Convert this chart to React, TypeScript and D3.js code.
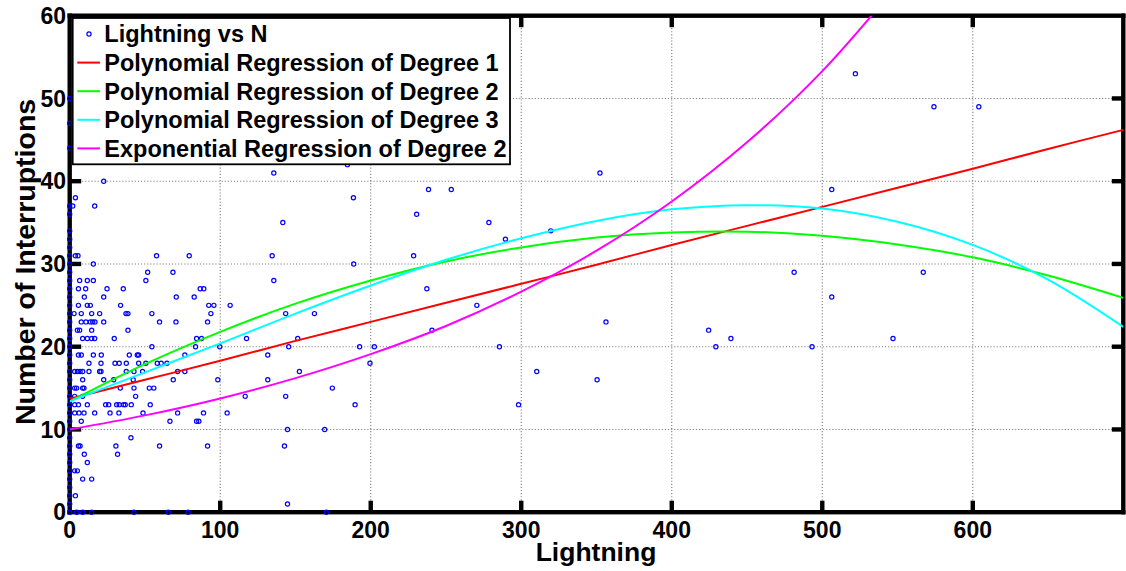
import React from 'react';
import * as d3 from 'd3';

const W = 1126;
const H = 571;

const xTicks = [0, 100, 200, 300, 400, 500, 600];
const yTicks = [0, 10, 20, 30, 40, 50, 60];
const gridX = [100, 200, 300, 400, 500, 600];
const gridY = [10, 20, 30, 40, 50];

// Observations: number of interruptions (y level) and the lightning values seen at that level
const levels = [0, 1, 2, 3, 4, 5, 6, 7, 8, 9, 10, 11, 12, 13, 14, 15, 16, 17, 18, 19, 20, 21, 22, 23, 24, 25, 26, 27, 28, 29, 30, 31, 32, 33, 34, 35, 36, 37, 38, 39, 40, 41, 42, 44, 47, 49, 50, 53];
const lightningByLevel: number[][] = [
  [0, 4.6, 8.6, 14.6, 42.7, 65.5, 78.7, 170.5],
  [0, 144.7],
  [0, 3.8],
  [0],
  [0, 8.6, 14.6],
  [0, 3.3, 5.1],
  [0, 11.7],
  [0, 9.7, 31.8],
  [0, 5.8, 6.9, 30.7, 59.7, 91.6, 142.7],
  [0, 40.7],
  [0, 144.7, 169.4],
  [0, 7.7, 66.6, 84.3, 85.8],
  [0, 3.3, 6.2, 9.5, 16.6, 26.8, 32.7, 48.7, 71.7, 88.9, 104.6],
  [0, 3.3, 5.8, 11.7, 23.9, 25.9, 31.2, 32.9, 35.8, 36.9, 40.9, 53.5, 189.6, 298.2],
  [0, 3.3, 8.6, 43.8, 116.6, 143.5],
  [0, 3.3, 4.6, 8.6, 9.5, 33.6, 42.7, 52.9, 55.9, 174.5],
  [0, 8.6, 22.6, 29.2, 42.2, 68.8, 98.4, 131.6, 350.4],
  [0, 3.3, 5.1, 6.9, 8.6, 12.8, 19.9, 20.8, 37.6, 42.7, 48.4, 71.7, 76.5, 152.6, 310.3],
  [0, 12.8, 20.8, 30.1, 32.9, 37.6, 45.8, 50.6, 58.2, 60.8, 64.6, 199.5],
  [0, 5.8, 7.7, 15.7, 21.0, 39.6, 44.9, 45.8, 76.5, 131.6],
  [0, 54.6, 83.6, 99.7, 145.5, 192.6, 202.4, 285.5, 429.3, 493.2],
  [0, 8.6, 11.7, 14.6, 16.6, 29.6, 84.3, 87.6, 117.5, 151.5, 439.3, 547],
  [0, 5.1, 6.6, 14.6, 38.7, 240.7, 424.5],
  [0, 7.7, 10.8, 13.7, 15.3, 16.8, 22.6, 59.7, 70.6, 91.6, 356.3],
  [0, 2.9, 7.7, 14.6, 19.9, 37.4, 38.7, 54.6, 93.8, 143.5, 162.6],
  [0, 5.8, 11.7, 13.7, 33.8, 92.4, 95.8, 106.6, 270.5],
  [0, 9.7, 22.6, 70.8, 82.7, 506.3],
  [0, 5.8, 10.6, 24.8, 35.6, 86.7, 89.1, 237.3],
  [0, 6.6, 11.7, 15.7, 50.6, 135.6],
  [0, 51.8, 68.6, 481.3, 567.1],
  [0, 15.7, 188.7],
  [0, 3.8, 5.5, 57.7, 79.4, 134.5, 228.5],
  [0],
  [0, 289.5],
  [0, 319.6],
  [141.6, 278.5],
  [0, 230.5],
  [0, 2.0, 16.6],
  [3.8, 188.5],
  [238.4, 253.5, 506.3],
  [22.6],
  [135.6, 352.3],
  [184.5],
  [0],
  [0],
  [574.2, 604],
  [0],
  [522],
];

// Fitted curves, read at lightning = 0, 50, ..., 700
const curveX = [0, 50, 100, 150, 200, 250, 300, 350, 400, 450, 500, 550, 600, 650, 700];
const poly1 = [13.7, 16.0, 18.3, 20.7, 23.0, 25.3, 27.6, 29.9, 32.3, 34.6, 36.9, 39.2, 41.5, 43.9, 46.2];
const poly2 = [13.4, 17.9, 21.8, 25.2, 28.0, 30.3, 32.0, 33.2, 33.8, 33.9, 33.4, 32.35, 30.8, 28.6, 25.9];
const poly3 = [13.4, 16.9, 20.4, 24.0, 27.4, 30.5, 33.1, 35.2, 36.6, 37.1, 36.7, 35.1, 32.3, 28.1, 22.4];
const expo2 = [10.0, 11.7, 13.75, 16.2, 19.1, 22.5, 26.65, 31.6, 37.55, 44.7, 53.3, 63.75];

const legendLabels = [
  'Lightning vs N',
  'Polynomial Regression of Degree 1',
  'Polynomial Regression of Degree 2',
  'Polynomial Regression of Degree 3',
  'Exponential Regression of Degree 2',
];
const lineColors = ['#ff0000', '#00ff00', '#00ffff', '#ff00ff'];
const markerColor = '#0000ff';

const FONT = "'Liberation Sans', Arial, Helvetica, sans-serif";

export default function App() {
  const x = d3.scaleLinear().domain([0, 700]).range([69.7, 1123.3]);
  const y = d3.scaleLinear().domain([0, 60]).range([512.2, 15.7]);
  const [x0, x1] = x.range();
  const [y0, y1] = y.range();

  const line = d3
    .line<[number, number]>()
    .x((d) => x(d[0]))
    .y((d) => y(d[1]))
    .curve(d3.curveCatmullRom.alpha(0.5));

  const curves = [poly1, poly2, poly3, expo2].map((vals) =>
    line(vals.map((v, i) => [curveX[i], v] as [number, number])) || ''
  );

  const points: [number, number][] = [];
  levels.forEach((lv, i) => {
    lightningByLevel[i].forEach((lx) => points.push([lx, lv]));
  });

  const tickLen = 11.5;
  const aw = 4.4; // axis line weight
  const legX = 72.7;
  const legY = 18;
  const legW = 437.3;
  const legH = 146.3;
  const rowY = (i: number) => 34 + i * 28.6;
  const mr = 2.1;
  const mw = 1.2;

  return (
    <svg
      width={W}
      height={H}
      style={{ position: 'absolute', left: 0, top: 0, background: '#fff' }}
      fontFamily={FONT}
    >
      <rect x={0} y={0} width={W} height={H} fill="#fff" />
      <defs>
        <clipPath id="plotClip">
          <rect x={x0} y={y1} width={x1 - x0} height={y0 - y1} />
        </clipPath>
      </defs>
      {/* grid */}
      <g style={{ stroke: '#7a7a7a', strokeWidth: 1.1, strokeDasharray: '1.1,2' }}>
        {gridX.map((t) => (
          <line key={'gx' + t} x1={x(t)} x2={x(t)} y1={y1} y2={y0} />
        ))}
        {gridY.map((t) => (
          <line key={'gy' + t} x1={x0} x2={x1} y1={y(t)} y2={y(t)} />
        ))}
      </g>
      {/* ticks (filled bars) and axes box */}
      <g fill="#000">
        {xTicks.slice(1).map((t) => (
          <g key={'xt' + t}>
            <rect x={x(t) - aw / 2} y={y0 - tickLen} width={aw} height={tickLen} />
            <rect x={x(t) - aw / 2} y={y1} width={aw} height={tickLen} />
          </g>
        ))}
        {yTicks.slice(1, -1).map((t) => (
          <g key={'yt' + t}>
            <rect x={x0} y={y(t) - aw / 2} width={tickLen} height={aw} />
            <rect x={x1 - tickLen} y={y(t) - aw / 2} width={tickLen} height={aw} />
          </g>
        ))}
        <rect x={x0 - aw / 2} y={y1 - aw / 2} width={x1 - x0 + aw} height={aw} />
        <rect x={x0 - aw / 2} y={y0 - aw / 2} width={x1 - x0 + aw} height={aw} />
        <rect x={x0 - aw / 2} y={y1 - aw / 2} width={aw} height={y0 - y1 + aw} />
        <rect x={x1 - aw / 2} y={y1 - aw / 2} width={aw} height={y0 - y1 + aw} />
      </g>
      {/* points */}
      <g style={{ fill: 'none', stroke: markerColor, strokeWidth: mw }}>
        {points.map((p, i) => (
          <circle key={i} cx={x(p[0])} cy={y(p[1])} r={mr} />
        ))}
      </g>
      {/* curves */}
      <g clipPath="url(#plotClip)">
        {curves.map((d, i) => (
          <path key={i} d={d} style={{ fill: 'none', stroke: lineColors[i], strokeWidth: 2 }} />
        ))}
      </g>
      {/* tick labels */}
      <g fontSize={23} fontWeight="bold" fill="#000">
        {xTicks.map((t) => (
          <text key={'xl' + t} x={x(t)} y={538.3} textAnchor="middle">
            {t}
          </text>
        ))}
        {yTicks.map((t) => (
          <text key={'yl' + t} x={66} y={y(t) + 8.2} textAnchor="end">
            {t}
          </text>
        ))}
      </g>
      {/* axis titles */}
      <text x={596} y={560.7} textAnchor="middle" fontSize={26.5} fontWeight="bold">
        Lightning
      </text>
      <text
        transform={`translate(35,${(y0 + y1) / 2 - 2}) rotate(-90)`}
        textAnchor="middle"
        fontSize={28.5}
        fontWeight="bold"
      >
        Number of Interruptions
      </text>
      {/* legend */}
      <rect
        x={legX}
        y={legY}
        width={legW}
        height={legH}
        style={{ fill: '#fff', stroke: '#000', strokeWidth: 1.8 }}
      />
      <circle cx={89} cy={rowY(0)} r={mr} style={{ fill: 'none', stroke: markerColor, strokeWidth: mw }} />
      {lineColors.map((c, i) => (
        <line
          key={'ll' + i}
          x1={77.3}
          x2={100}
          y1={rowY(i + 1)}
          y2={rowY(i + 1)}
          style={{ stroke: c, strokeWidth: 2 }}
        />
      ))}
      {legendLabels.map((l, i) => (
        <text key={'lt' + i} x={104.3} y={rowY(i) + 8.3} fontSize={23.5} fontWeight="bold">
          {l}
        </text>
      ))}
    </svg>
  );
}
